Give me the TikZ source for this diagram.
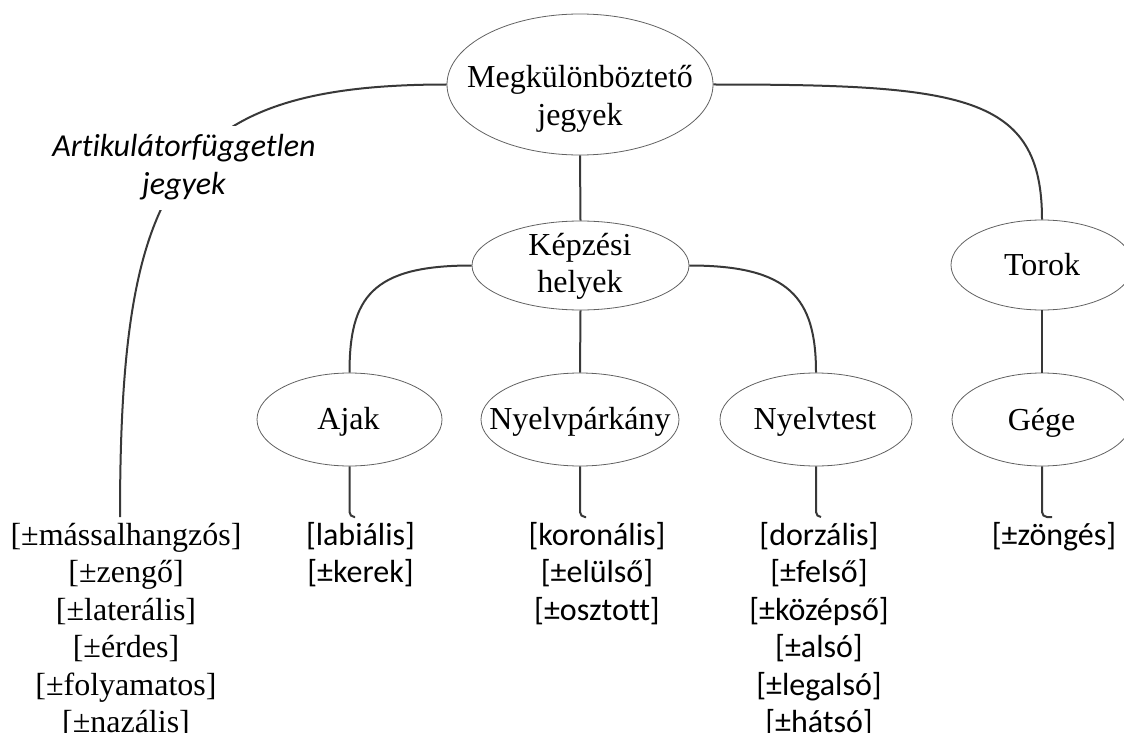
\documentclass[tikz,border=0pt]{standalone}
\usepackage{fontspec}
\setmainfont{Liberation Serif}[Ligatures=CommonOff]
\newfontfamily\sansfam{Carlito}[Ligatures=CommonOff]
\usetikzlibrary{shapes.geometric}
% centred stack of lines whose baseline is the first line
\newcommand{\stacked}[1]{\begin{tabular}[t]{@{}c@{}}#1\end{tabular}}
\newcommand{\nl}{\\\relax}

\begin{document}
\begin{tikzpicture}[x=1pt,y=-1pt,
  bubble/.style={draw=black!62, line width=0.8pt, ellipse, inner sep=0pt},
  lbl/.style={font=\fontsize{32}{37.5}\selectfont, anchor=base, inner sep=0pt},
  feat/.style={font=\sansfam\fontsize{32}{37.5}\selectfont, anchor=base, inner sep=0pt},
  link/.style={draw=black!78, line width=2pt},
  hook/.style={link, rounded corners=5pt}]
\useasboundingbox (0,0) rectangle (1124,733);
\clip (0,0) rectangle (1124,733);

% ellipses
\node[bubble, minimum width=266pt, minimum height=141pt] (main)  at (580,84.5)  {};
\node[bubble, minimum width=217pt, minimum height=89pt]  (kepz)  at (580.5,265.5) {};
\node[bubble, minimum width=182pt, minimum height=90pt]  (torok) at (1042,265)  {};
\node[bubble, minimum width=185pt, minimum height=93pt]  (ajak)  at (349.5,419.5) {};
\node[bubble, minimum width=198pt, minimum height=93pt]  (nyp)   at (580,419.5) {};
\node[bubble, minimum width=192pt, minimum height=93pt]  (nyt)   at (816,419.5) {};
\node[bubble, minimum width=180pt, minimum height=93pt]  (gege)  at (1042,419.5) {};

% ellipse texts
\node[lbl] (main-text)  at (580,88)    {\stacked{Megkülönböztető\nl jegyek}};
\node[lbl] (kepz-text)  at (580,255)   {\stacked{Képzési\nl helyek}};
\node[lbl] (torok-text) at (1042,275)  {Torok};
\node[lbl] (ajak-text)  at (348.5,429) {Ajak};
\node[lbl] (nyp-text)   at (580,429)   {Nyelvpárkány};
\node[lbl] (nyt-text)   at (815,429)   {Nyelvtest};
\node[lbl] (gege-text)  at (1041.5,430) {Gége};

% feature lists
\node[lbl]  (art-list)  at (126,545) {\stacked{[±mássalhangzós]\nl [±zengő]\nl [±laterális]\nl [±érdes]\nl [±folyamatos]\nl [±nazális]}};
\node[feat] (ajak-list) at (360.5,545) {\stacked{[labiális]\nl [±kerek]}};
\node[feat] (nyp-list)  at (597,545) {\stacked{[koronális]\nl [±elülső]\nl [±osztott]}};
\node[feat] (nyt-list)  at (819,545) {\stacked{[dorzális]\nl [±felső]\nl [±középső]\nl [±alsó]\nl [±legalsó]\nl [±hátsó]}};
\node[feat] (gege-list) at (1054,545) {\stacked{[±zöngés]}};

% connector ends above the lists
\coordinate (art-end)  at (120,517);
\coordinate (ajak-end) at (355,517);
\coordinate (nyp-end)  at (586,517);
\coordinate (nyt-end)  at (821,517);
\coordinate (gege-end) at (1052,517);

% tree connectors
\draw[link] (main.south) -- (kepz.north);
\draw[link] (kepz.south) -- (nyp.north);
\draw[link] (torok.south) -- (gege.north);
\draw[link] (kepz.west) .. controls +(-100,0) and +(0,-75) .. (ajak.north);
\draw[link] (kepz.east) .. controls +(100,0) and +(0,-75) .. (nyt.north);
\draw[link] (main.east) .. controls +(250,0) and +(0,-125) .. (torok.north);
\draw[link] (main.west) .. controls +(-272,0) and +(0,-337) .. (art-end);

% short hooks down to the lists
\draw[hook] (ajak.south) |- (ajak-end);
\draw[hook] (nyp.south)  |- (nyp-end);
\draw[hook] (nyt.south)  |- (nyt-end);
\draw[hook] (gege.south) |- (gege-end);

% label sitting on the left branch
\node[font=\sansfam\itshape\fontsize{32}{38}\selectfont, anchor=base, fill=white,
      inner xsep=2pt, inner ysep=4pt] (art-label) at (184,157)
      {\stacked{Artikulátorfüggetlen\nl jegyek}};
\end{tikzpicture}
\end{document}
